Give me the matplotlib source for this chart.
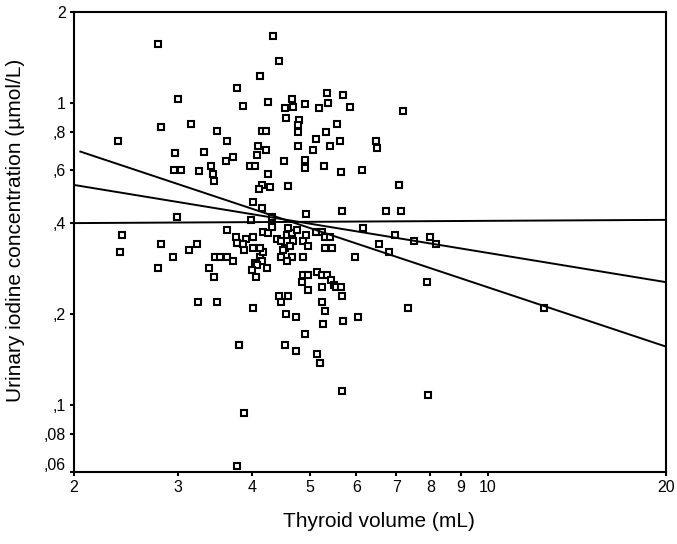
import numpy as np
import matplotlib
matplotlib.use("Agg")
import matplotlib.pyplot as plt
import matplotlib.transforms as mtransforms
from matplotlib.ticker import FixedLocator, FixedFormatter, NullLocator

plt.rcParams['font.family'] = ['Liberation Sans', 'DejaVu Sans']

# thyroid volume (mL) and urinary iodine (umol/L)
volume = [2.77, 4.34, 4.44, 4.12, 3.77, 3.00, 3.86, 4.25, 4.67, 4.54,
          4.69, 4.92, 5.18, 5.34, 5.38, 5.70, 5.85, 7.19, 4.56, 4.80,
          4.78, 4.78, 4.15, 4.22, 5.57, 5.13, 5.32, 5.63, 6.47, 6.50,
          2.37, 2.81, 3.15, 3.49, 3.63, 2.96, 3.32, 3.41, 3.43, 3.45,
          3.61, 3.71, 4.09, 4.22, 4.07, 3.97, 4.04, 4.78, 5.41, 5.07,
          4.52, 4.92, 4.92, 5.29, 5.66, 6.13, 2.95, 3.03, 3.25, 4.25,
          4.15, 4.28, 4.10, 4.60, 7.08, 4.01, 4.15, 4.32, 3.98, 4.94,
          5.68, 6.73, 7.13, 2.99,
          3.63, 2.41, 2.39, 2.81, 3.13, 3.23, 2.94, 2.77, 3.46, 3.53,
          3.63, 3.71, 3.38, 3.45, 3.24, 3.49, 3.76, 3.77, 3.90, 4.01,
          4.17, 4.25, 4.32, 3.86, 3.87, 4.01, 4.12, 4.17, 4.04, 4.15,
          4.24, 4.07, 4.00, 4.06, 4.12, 4.40, 4.48, 4.58, 4.67, 4.69,
          4.76, 4.54, 4.48, 4.67, 4.58, 4.60, 4.50, 4.63, 4.87, 4.96,
          5.13, 5.25, 5.31, 5.41, 5.31, 5.45, 4.87, 4.94, 5.97, 6.15,
          6.97, 7.99, 7.50, 8.18, 6.54, 6.80,
          4.85, 4.87, 4.97, 5.14, 5.25, 5.34, 5.43, 5.50, 5.54, 5.66,
          5.68, 4.96, 5.25, 4.44, 4.60, 4.47, 5.25, 5.31, 4.01, 4.56,
          4.74, 5.27, 5.70, 6.04, 7.89, 7.33, 12.44, 4.92, 3.80, 4.54,
          4.74, 5.14, 5.20, 5.68, 7.92, 3.87, 3.77]
iodine = [1.57, 1.67, 1.38, 1.23, 1.12, 1.03, 0.977, 1.01, 1.03, 0.96,
          0.97, 0.99, 0.96, 1.08, 1.00, 1.06, 0.97, 0.94, 0.89, 0.88,
          0.845, 0.80, 0.81, 0.81, 0.851, 0.76, 0.80, 0.748, 0.75, 0.71,
          0.748, 0.83, 0.851, 0.807, 0.75, 0.68, 0.69, 0.62, 0.58, 0.55,
          0.64, 0.66, 0.72, 0.70, 0.67, 0.62, 0.62, 0.72, 0.72, 0.70,
          0.64, 0.647, 0.61, 0.62, 0.59, 0.60, 0.60, 0.60, 0.595, 0.58,
          0.535, 0.525, 0.52, 0.53, 0.535, 0.47, 0.45, 0.42, 0.41, 0.43,
          0.44, 0.44, 0.44, 0.42,
          0.38, 0.365, 0.32, 0.34, 0.325, 0.34, 0.31, 0.285, 0.31, 0.31,
          0.31, 0.30, 0.285, 0.265, 0.22, 0.22, 0.36, 0.345, 0.355, 0.36,
          0.375, 0.37, 0.388, 0.34, 0.325, 0.33, 0.31, 0.32, 0.295, 0.30,
          0.285, 0.29, 0.28, 0.265, 0.33, 0.355, 0.35, 0.365, 0.37, 0.35,
          0.38, 0.33, 0.31, 0.31, 0.30, 0.385, 0.325, 0.335, 0.35, 0.335,
          0.375, 0.375, 0.36, 0.36, 0.33, 0.33, 0.31, 0.365, 0.31, 0.385,
          0.365, 0.36, 0.35, 0.34, 0.34, 0.32,
          0.255, 0.27, 0.27, 0.275, 0.27, 0.27, 0.26, 0.25, 0.245, 0.245,
          0.23, 0.24, 0.245, 0.23, 0.23, 0.22, 0.22, 0.205, 0.21, 0.20,
          0.195, 0.185, 0.19, 0.195, 0.255, 0.21, 0.21, 0.172, 0.158, 0.158,
          0.151, 0.147, 0.138, 0.111, 0.108, 0.094, 0.063]

# the three fitted lines (end points)
line1_x = [2.05, 20]
line1_y = [0.69, 0.156]
line2_x = [2, 20]
line2_y = [0.535, 0.255]
line3_x = [2, 20]
line3_y = [0.40, 0.41]

xticks = [2, 3, 4, 5, 6, 7, 8, 9, 10, 20]
xticklabels = ['2', '3', '4', '5', '6', '7', '8', '9', '10', '20']
yticks = [2, 1, 0.8, 0.6, 0.4, 0.2, 0.1, 0.08, 0.06]
yticklabels = ['2', '1', ',8', ',6', ',4', ',2', ',1', ',08', ',06']

fig = plt.figure(figsize=(6.77, 5.44), dpi=100)
ax = fig.add_axes([0.1093, 0.1324, 0.8745, 0.8456])

ax.plot(volume, iodine, linestyle='none', marker='s', markersize=4.8,
        markerfacecolor='white', markeredgecolor='black', markeredgewidth=1.5)
for lx, ly in [(line1_x, line1_y), (line2_x, line2_y), (line3_x, line3_y)]:
    ax.plot(lx, ly, color='black', linewidth=1.4)

ax.set_xscale('log')
ax.set_yscale('log')
ax.set_xlim(2, 20)
ax.set_ylim(0.06, 2)

ax.xaxis.set_major_locator(FixedLocator(xticks))
ax.xaxis.set_major_formatter(FixedFormatter(xticklabels))
ax.xaxis.set_minor_locator(NullLocator())
ax.yaxis.set_major_locator(FixedLocator(yticks))
ax.yaxis.set_major_formatter(FixedFormatter(yticklabels))
ax.yaxis.set_minor_locator(NullLocator())

ax.tick_params(direction='out', length=3, width=1.5, labelsize=11.5, pad=3)
for s in ax.spines.values():
    s.set_linewidth(1.5)

ax.set_xlabel('Thyroid volume (mL)', fontsize=15)
ax.set_ylabel('Urinary iodine concentration (\u00b5mol/L)', fontsize=15)
ax.xaxis.set_label_coords(0.515, -0.088)
ax.yaxis.set_label_coords(-0.083, 0.526)

fig.canvas.draw()
lbl = ax.get_yticklabels()[-1]
lbl.set_transform(lbl.get_transform() + mtransforms.ScaledTranslation(0, 0.08, fig.dpi_scale_trans))

fig.savefig('out.png', dpi=100)
